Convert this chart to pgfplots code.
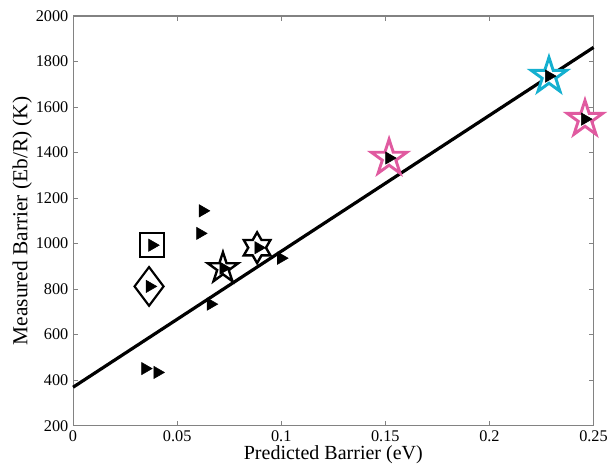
\documentclass[border=0pt]{standalone}
\usepackage{pgfplots}
\pgfplotsset{compat=1.18}
\usepackage{fontspec}
\setmainfont{Liberation Serif}

% outline five-point star
\pgfdeclareplotmark{ostar}{%
  \pgfpathmoveto{\pgfpointpolar{90}{\pgfplotmarksize}}%
  \pgfpathlineto{\pgfpointpolar{126}{0.382\pgfplotmarksize}}%
  \pgfpathlineto{\pgfpointpolar{162}{\pgfplotmarksize}}%
  \pgfpathlineto{\pgfpointpolar{198}{0.382\pgfplotmarksize}}%
  \pgfpathlineto{\pgfpointpolar{234}{\pgfplotmarksize}}%
  \pgfpathlineto{\pgfpointpolar{270}{0.382\pgfplotmarksize}}%
  \pgfpathlineto{\pgfpointpolar{306}{\pgfplotmarksize}}%
  \pgfpathlineto{\pgfpointpolar{342}{0.382\pgfplotmarksize}}%
  \pgfpathlineto{\pgfpointpolar{18}{\pgfplotmarksize}}%
  \pgfpathlineto{\pgfpointpolar{54}{0.382\pgfplotmarksize}}%
  \pgfpathclose
  \pgfusepathqfillstroke
}
% outline hexagram
\pgfdeclareplotmark{ohex}{%
  \pgfpathmoveto{\pgfpointpolar{90}{\pgfplotmarksize}}%
  \pgfpathlineto{\pgfpointpolar{120}{0.577\pgfplotmarksize}}%
  \pgfpathlineto{\pgfpointpolar{150}{\pgfplotmarksize}}%
  \pgfpathlineto{\pgfpointpolar{180}{0.577\pgfplotmarksize}}%
  \pgfpathlineto{\pgfpointpolar{210}{\pgfplotmarksize}}%
  \pgfpathlineto{\pgfpointpolar{240}{0.577\pgfplotmarksize}}%
  \pgfpathlineto{\pgfpointpolar{270}{\pgfplotmarksize}}%
  \pgfpathlineto{\pgfpointpolar{300}{0.577\pgfplotmarksize}}%
  \pgfpathlineto{\pgfpointpolar{330}{\pgfplotmarksize}}%
  \pgfpathlineto{\pgfpointpolar{0}{0.577\pgfplotmarksize}}%
  \pgfpathlineto{\pgfpointpolar{30}{\pgfplotmarksize}}%
  \pgfpathlineto{\pgfpointpolar{60}{0.577\pgfplotmarksize}}%
  \pgfpathclose
  \pgfusepathqfillstroke
}

\definecolor{starpink}{RGB}{224,90,160}
\definecolor{starcyan}{RGB}{20,176,208}
\definecolor{framegray}{RGB}{130,130,130}

\begin{document}
\begin{tikzpicture}
\begin{axis}[
  name=main,
  scale only axis,
  width=390pt, height=307pt,
  xmin=0, xmax=0.25, ymin=200, ymax=2000,
  xtick={0,0.05,0.1,0.15,0.2,0.25},
  xticklabels={0,0.05,0.1,0.15,0.2,0.25},
  ytick={200,400,...,2000},
  scaled ticks=false,
  /pgf/number format/1000 sep={},
  /pgf/number format/assume math mode=true,
  axis line style={framegray, line width=0.8pt},
  tick style={framegray, line width=0.6pt},
  major tick length=3.5pt,
  tick align=inside,
  tick label style={font=\fontsize{12.2}{14}\selectfont, black},
  xlabel={Predicted Barrier (eV)},
  ylabel={Measured Barrier (Eb/R) (K)},
  xlabel style={font=\fontsize{15}{17}\selectfont, yshift=4pt},
  ylabel style={font=\fontsize{16}{18}\selectfont, yshift=-4pt},
  clip=false,
]
% fitted line
\addplot[black, line width=2.4pt] coordinates {(0,369) (0.25,1862)};

% open reference markers
\addplot[only marks, mark=square, mark size=9pt,
  mark options={draw=black, fill=white, line width=1.6pt}]
  coordinates {(0.0378,993)};
\addplot[only marks, mark=diamond, mark size=14.5pt,
  mark options={draw=black, fill=white, line width=1.6pt}]
  coordinates {(0.0365,812)};
\addplot[only marks, mark=ostar, mark size=12pt,
  mark options={draw=black, fill=white, line width=1.8pt}]
  coordinates {(0.0720,892)};
\addplot[only marks, mark=ohex, mark size=11.5pt,
  mark options={draw=black, fill=white, line width=1.8pt}]
  coordinates {(0.0884,982)};
\addplot[only marks, mark=ostar, mark size=14pt,
  mark options={draw=starpink, fill=white, line width=2.2pt}]
  coordinates {(0.1518,1376) (0.2459,1547)};
\addplot[only marks, mark=ostar, mark size=14pt,
  mark options={draw=starcyan, fill=white, line width=2.2pt}]
  coordinates {(0.2286,1736)};

% measured points
\addplot[only marks, mark=triangle*, mark size=5.3pt,
  mark options={black, rotate=-90}]
  coordinates {
  (0.0346,451) (0.0405,434) (0.0661,734) (0.0623,1144) (0.0610,1045)
  (0.0380,993) (0.0368,812) (0.0722,892) (0.0890,982) (0.0999,936)
  (0.1518,1376) (0.2286,1736) (0.2459,1547)
  };
\end{axis}
\pgfresetboundingbox
\path ([xshift=-54.75pt,yshift=-30.4pt]main.south west)
  rectangle ([xshift=11.6pt,yshift=12pt]main.north east);
\end{tikzpicture}
\end{document}
